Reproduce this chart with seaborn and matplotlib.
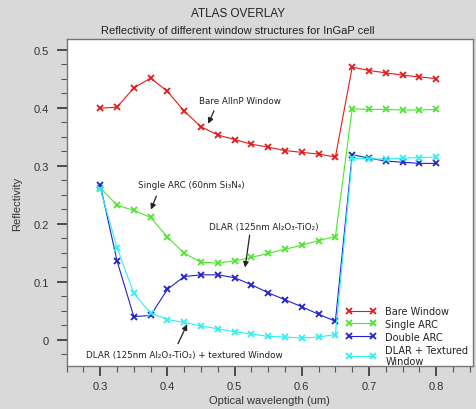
import numpy as np
import pandas as pd
import seaborn as sns
import matplotlib.pyplot as plt

wavelength = [0.3, 0.325, 0.35, 0.375, 0.4, 0.425, 0.45, 0.475, 0.5, 0.525, 0.55,
              0.575, 0.6, 0.625, 0.65, 0.675, 0.7, 0.725, 0.75, 0.775, 0.8]
bare_window = [0.399, 0.401, 0.434, 0.451, 0.428, 0.394, 0.367, 0.353, 0.345, 0.337, 0.332,
               0.326, 0.323, 0.320, 0.315, 0.470, 0.464, 0.460, 0.456, 0.453, 0.450]
single_arc = [0.262, 0.232, 0.223, 0.211, 0.177, 0.149, 0.134, 0.132, 0.136, 0.142, 0.149,
              0.156, 0.163, 0.171, 0.178, 0.398, 0.397, 0.397, 0.396, 0.396, 0.397]
double_arc = [0.267, 0.136, 0.040, 0.042, 0.087, 0.109, 0.112, 0.112, 0.107, 0.095, 0.081,
              0.069, 0.057, 0.044, 0.032, 0.319, 0.313, 0.308, 0.306, 0.304, 0.304]
dlar_textured = [0.260, 0.159, 0.080, 0.046, 0.035, 0.030, 0.024, 0.019, 0.014, 0.010, 0.006,
                 0.005, 0.003, 0.005, 0.009, 0.313, 0.312, 0.311, 0.313, 0.314, 0.315]

series = [
    ("Bare Window", bare_window, "#e41a1a"),
    ("Single ARC", single_arc, "#4de62e"),
    ("Double ARC", double_arc, "#2222cc"),
    ("DLAR + Textured\nWindow", dlar_textured, "#2ef0f0"),
]

sns.set_style("white")
plt.rcParams["font.family"] = ["Liberation Sans", "DejaVu Sans"]

fig = plt.figure(figsize=(4.76, 4.10), dpi=100, facecolor="#d9d9d9")
ax = fig.add_axes([0.140, 0.105, 0.854, 0.797])

for name, vals, col in series:
    df = pd.DataFrame({"wl": wavelength, "r": vals})
    sns.lineplot(data=df, x="wl", y="r", ax=ax, color=col, marker="x",
                 markersize=4.5, markeredgewidth=1.3, markeredgecolor=col,
                 linewidth=0.8, sort=False, label=name)

ax.set_xlim(0.25, 0.855)
ax.set_ylim(-0.045, 0.518)
ax.set_xticks([0.3, 0.4, 0.5, 0.6, 0.7, 0.8])
ax.set_xticks(np.arange(0.25, 0.86, 0.025), minor=True)
ax.set_yticks([0, 0.1, 0.2, 0.3, 0.4, 0.5])
ax.set_yticklabels(["0", "0.1", "0.2", "0.3", "0.4", "0.5"])
ax.set_yticks(np.arange(-0.025, 0.52, 0.025), minor=True)
ax.tick_params(axis="both", which="major", direction="out", length=7, width=1.2,
               colors="#333333", labelsize=8, labelcolor="#333333", left=True, bottom=True)
ax.tick_params(axis="both", which="minor", direction="out", length=4, width=0.8,
               colors="#555555", left=True, bottom=True)
ax.tick_params(axis="y", which="major", pad=6)
for s in ax.spines.values():
    s.set_color("#777777")
    s.set_linewidth(1.0)

ax.set_xlabel("Optical wavelength (um)", fontsize=8, color="#333333", labelpad=3)
ax.set_ylabel("Reflectivity", fontsize=8, color="#333333", labelpad=8)
fig.text(0.5, 0.965, "ATLAS OVERLAY", ha="center", va="center", fontsize=8.5, color="#222222")
fig.text(0.5, 0.925, "Reflectivity of different window structures for InGaP cell",
         ha="center", va="center", fontsize=8, color="#222222")

afont = dict(fontsize=6.3, family="DejaVu Sans", color="#222222", va="center", ha="left")
aprops = dict(arrowstyle="-|>", color="#222222", lw=0.9, mutation_scale=8)
ax.text(0.447, 0.412, "Bare AlInP Window", **afont)
ax.annotate("", xy=(0.459, 0.368), xytext=(0.471, 0.399), arrowprops=aprops)
ax.text(0.356, 0.267, "Single ARC (60nm Si₃N₄)", **afont)
ax.annotate("", xy=(0.374, 0.220), xytext=(0.385, 0.252), arrowprops=aprops)
ax.text(0.462, 0.196, "DLAR (125nm Al₂O₃-TiO₂)", **afont)
ax.annotate("", xy=(0.515, 0.120), xytext=(0.523, 0.185), arrowprops=aprops)
ax.text(0.279, -0.025, "DLAR (125nm Al₂O₃-TiO₂) + textured Window", **afont)
ax.annotate("", xy=(0.431, 0.031), xytext=(0.414, -0.011), arrowprops=aprops)

leg = ax.legend(loc="lower right", bbox_to_anchor=(1.005, -0.022), frameon=False, numpoints=2,
                prop={"family": "DejaVu Sans", "size": 7}, handlelength=3.0,
                handletextpad=1.0, labelspacing=0.3, borderaxespad=0.3)
for t in leg.get_texts():
    t.set_color("#222222")

fig.savefig("out.png", dpi=100, facecolor=fig.get_facecolor())
